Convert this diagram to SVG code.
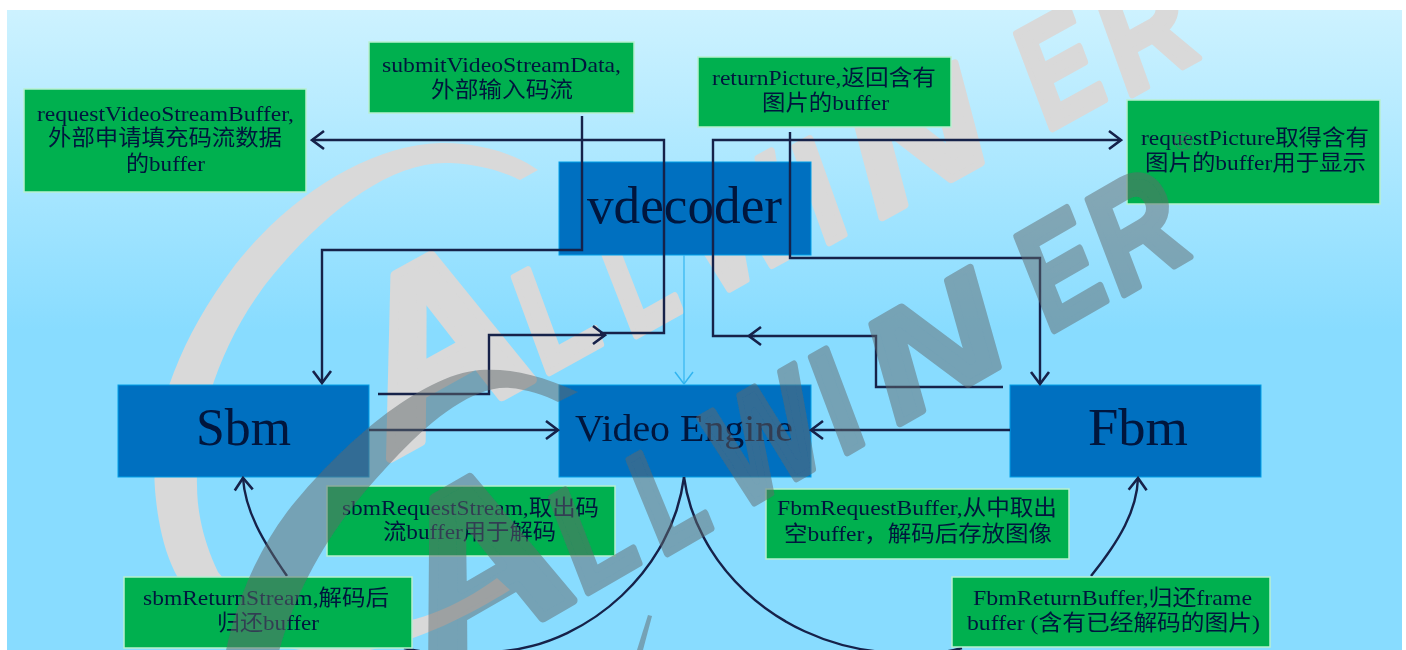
<svg xmlns="http://www.w3.org/2000/svg" width="1406" height="650" viewBox="0 0 1406 650">
<style>
.n{fill:#0070c0;stroke:#00a0e8;stroke-width:1}
.g{fill:#00b050;stroke:#b8f0d0;stroke-width:1.5}
text{font-family:"Liberation Serif","Noto Sans CJK SC",serif;fill:#05153d}
.t{font-size:22px}
.h{font-size:52px}
.c{fill:none;stroke:#16214a;stroke-width:2.4}
.wb,.wf{font-family:"Liberation Sans",sans-serif;font-weight:700;font-style:italic;font-size:146px;stroke-width:7px;stroke-linejoin:round}
.wb{fill:#d9d9d9;stroke:#d9d9d9}
.wf{fill:#60686b;stroke:#60686b}
.big{font-size:230px;stroke-width:9px}
</style>
<defs>
<linearGradient id="bg" x1="0" y1="10" x2="0" y2="330" gradientUnits="userSpaceOnUse"><stop offset="0" stop-color="#cdf2ff"/><stop offset="1" stop-color="#88dcff"/></linearGradient>
<clipPath id="cp"><rect x="7" y="10" width="1395" height="640"/></clipPath>
<marker id="a" markerUnits="userSpaceOnUse" markerWidth="16" markerHeight="22" refX="14" refY="11" orient="auto"><path d="M2,2 L14,11 L2,20" fill="none" stroke="#16214a" stroke-width="2.6"/></marker>
<marker id="b" markerUnits="userSpaceOnUse" markerWidth="16" markerHeight="22" refX="14" refY="11" orient="auto"><path d="M2,2 L14,11 L2,20" fill="none" stroke="#33b5f0" stroke-width="1.5"/></marker>
<filter id="s" x="0" y="0" width="1" height="1"><feGaussianBlur stdDeviation="0.55"/></filter>
</defs>
<rect width="1406" height="650" fill="#fff"/>
<g filter="url(#s)">
<rect x="7" y="10" width="1395" height="640" fill="url(#bg)"/>
<g id="watermark-back" clip-path="url(#cp)">
<path fill="#d9d9d9" d="M538,170 C510,150 470,142 440,143 C370,145 290,195 235,265 C175,345 150,420 155,490 C158,525 165,555 178,578 C215,640 300,660 370,650 C420,640 470,615 510,590 L497,578 C450,612 400,630 350,625 C290,620 240,600 218,572 C205,545 197,515 197,485 C195,420 220,345 265,285 C320,215 390,160 450,163 C475,164 500,170 520,180 Z"/>
<text class="wb big" transform="translate(395 456) rotate(-29) scale(1.05 1)">A</text>
<text class="wb" transform="translate(547 374) rotate(-29) scale(.8 1)">L</text>
<text class="wb" transform="translate(634 337) rotate(-29) scale(.7 1)">L</text>
<text class="wb" transform="translate(717 296) rotate(-29) scale(.8 1)">W</text>
<text class="wb" transform="translate(827 244) rotate(-29) scale(.85 1)">I</text>
<text class="wb" transform="translate(880 219) rotate(-29) scale(1.3 1)">N</text>
<text class="wb" transform="translate(1050 130) rotate(-29) scale(.75 1)">E</text>
<text class="wb" transform="translate(1130 96) rotate(-29) scale(.83 1)">R</text>
</g>
<g id="vdecoder"><rect class="n" x="559" y="162" width="252" height="93"/><text class="h" x="587" y="223" textLength="195" lengthAdjust="spacingAndGlyphs">vdecoder</text></g>
<g id="sbm"><rect class="n" x="118" y="385" width="251" height="92"/><text class="h" x="196" y="445" textLength="95" lengthAdjust="spacingAndGlyphs">Sbm</text></g>
<g id="video-engine"><rect class="n" x="559" y="385" width="252" height="92"/><text x="575" y="441" font-size="37" textLength="218" lengthAdjust="spacingAndGlyphs">Video Engine</text></g>
<g id="fbm"><rect class="n" x="1010" y="385" width="251" height="92"/><text class="h" x="1088" y="445" textLength="100" lengthAdjust="spacingAndGlyphs">Fbm</text></g>
<g id="connectors">
<path class="c" d="M378,394 H489 V335 H605" marker-end="url(#a)"/>
<path class="c" d="M600,333 H664 V140 H312" marker-end="url(#a)"/>
<path class="c" d="M582,116 V250 H322 V383" marker-end="url(#a)"/>
<path class="c" d="M790,132 V258 H1040 V384" marker-end="url(#a)"/>
<path class="c" d="M1003,387 H876 V336 H749" marker-end="url(#a)"/>
<path class="c" d="M755,336 H713 V140 H1121" marker-end="url(#a)"/>
<path class="c" d="M369,430 H558" marker-end="url(#a)"/>
<path class="c" d="M1010,430 H811" marker-end="url(#a)"/>
<path d="M684,255 V384" fill="none" stroke="#33b5f0" stroke-width="1.2" marker-end="url(#b)"/>
<path class="c" d="M684,477 C672,570 590,642 505,651 C470,655 430,655 404,648"/>
<path class="c" d="M684,477 C695,560 770,640 880,652 C910,655 940,655 962,648"/>
<path class="c" d="M287,576 C262,540 245,510 243,478" marker-end="url(#a)"/>
<path class="c" d="M1091,576 C1120,540 1137,510 1138,478" marker-end="url(#a)"/>
</g>
<g id="req-video"><rect class="g" x="24" y="89" width="282" height="103"/><text class="t" x="37" y="121" textLength="257" lengthAdjust="spacingAndGlyphs">requestVideoStreamBuffer,</text><text class="t" x="48" y="145" textLength="234" lengthAdjust="spacingAndGlyphs">外部申请填充码流数据</text><text class="t" x="126" y="171" textLength="79" lengthAdjust="spacingAndGlyphs">的buffer</text></g>
<g id="submit"><rect class="g" x="369" y="42" width="265" height="71"/><text class="t" x="382" y="72" textLength="239" lengthAdjust="spacingAndGlyphs">submitVideoStreamData,</text><text class="t" x="431" y="97" textLength="142" lengthAdjust="spacingAndGlyphs">外部输入码流</text></g>
<g id="return-picture"><rect class="g" x="698" y="57" width="253" height="70"/><text class="t" x="712" y="85" textLength="224" lengthAdjust="spacingAndGlyphs">returnPicture,返回含有</text><text class="t" x="762" y="110" textLength="127" lengthAdjust="spacingAndGlyphs">图片的buffer</text></g>
<g id="request-picture"><rect class="g" x="1127" y="100" width="253" height="104"/><text class="t" x="1141" y="145" textLength="228" lengthAdjust="spacingAndGlyphs">requestPicture取得含有</text><text class="t" x="1145" y="170" textLength="221" lengthAdjust="spacingAndGlyphs">图片的buffer用于显示</text></g>
<g id="sbm-request"><rect class="g" x="327" y="486" width="288" height="70"/><text class="t" x="342" y="515" textLength="257" lengthAdjust="spacingAndGlyphs">sbmRequestStream,取出码</text><text class="t" x="383" y="539" textLength="173" lengthAdjust="spacingAndGlyphs">流buffer用于解码</text></g>
<g id="sbm-return"><rect class="g" x="124" y="577" width="288" height="71"/><text class="t" x="143" y="605" textLength="246" lengthAdjust="spacingAndGlyphs">sbmReturnStream,解码后</text><text class="t" x="217" y="630" textLength="102" lengthAdjust="spacingAndGlyphs">归还buffer</text></g>
<g id="fbm-request"><rect class="g" x="766" y="489" width="303" height="70"/><text class="t" x="777" y="515" textLength="280" lengthAdjust="spacingAndGlyphs">FbmRequestBuffer,从中取出</text><text class="t" x="784" y="541" textLength="268" lengthAdjust="spacingAndGlyphs">空buffer，解码后存放图像</text></g>
<g id="fbm-return"><rect class="g" x="952" y="577" width="318" height="70"/><text class="t" x="973" y="605" textLength="279" lengthAdjust="spacingAndGlyphs">FbmReturnBuffer,归还frame</text><text class="t" x="967" y="630" textLength="293" lengthAdjust="spacingAndGlyphs">buffer (含有已经解码的图片)</text></g>
<g id="watermark-front" clip-path="url(#cp)" opacity="0.5">
<path fill="#60686b" d="M578,392 C540,375 510,368 480,370 C420,375 340,445 287,512 C255,555 235,605 225,655 L278,655 C295,590 330,530 375,480 C415,435 465,385 510,388 C525,389 545,395 558,402 Z"/>
<text class="wf big" transform="translate(437 679) rotate(-30) scale(1.05 1)">A</text>
<text class="wf" transform="translate(586 594) rotate(-30) scale(.8 1)">L</text>
<text class="wf" transform="translate(665 555) rotate(-30) scale(.7 1)">L</text>
<text class="wf" transform="translate(742 510) rotate(-30) scale(.8 1)">W</text>
<text class="wf" transform="translate(845 454) rotate(-30) scale(.85 1)">I</text>
<text class="wf" transform="translate(898 425) rotate(-30) scale(1.3 1)">N</text>
<text class="wf" transform="translate(1052 332) rotate(-30) scale(.75 1)">E</text>
<text class="wf" transform="translate(1122 296) rotate(-30) scale(.83 1)">R</text>
<path d="M648,615 L652,616 L643,650 L637,650 Z" fill="#60686b"/>
<text x="1183" y="150" font-size="26" text-anchor="middle" style="font-family:'Liberation Sans',sans-serif;fill:#60686b">®</text>
</g>
</g>
</svg>
